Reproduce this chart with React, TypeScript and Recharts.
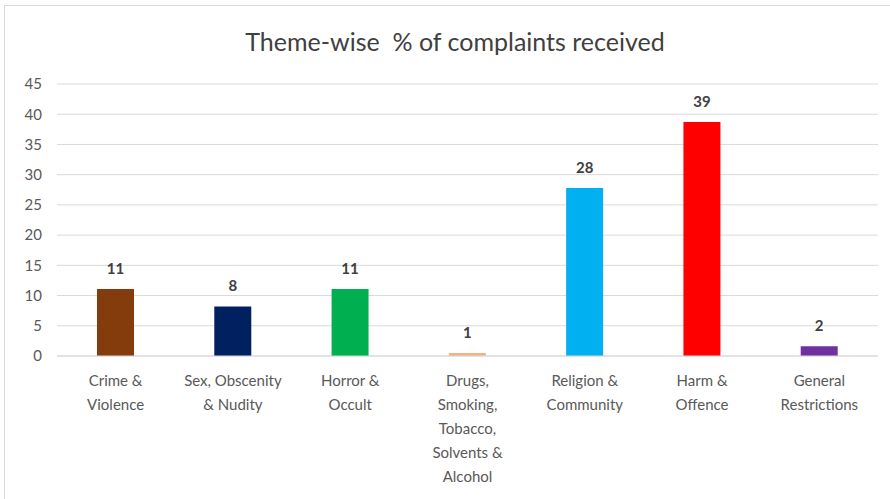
import { BarChart, Bar, XAxis, YAxis, CartesianGrid, Cell, LabelList } from 'recharts';

// Category names, with line breaks as they wrap under each bar
const categories = [
  'Crime &\nViolence',
  'Sex, Obscenity\n& Nudity',
  'Horror &\nOccult',
  'Drugs,\nSmoking,\nTobacco,\nSolvents &\nAlcohol',
  'Religion &\nCommunity',
  'Harm &\nOffence',
  'General\nRestrictions',
];

// % of complaints (bar heights)
const percentages = [11.1, 8.2, 11.1, 0.5, 27.8, 38.7, 1.6];

const barColors = ['#843C0C', '#002060', '#00B050', '#F4B183', '#00B0F0', '#FF0000', '#7030A0'];

const yTicks = [0, 5, 10, 15, 20, 25, 30, 35, 40, 45];

const chartData = categories.map((name, i) => ({ name, value: percentages[i] }));

const FONT = 'Lato, "Open Sans", sans-serif';

function CategoryTick(props: any) {
  const { x, y, payload } = props;
  const lines = String(payload.value).split('\n');
  return (
    <text x={x} y={y} textAnchor="middle" fill="#595959" fontSize={15} fontFamily={FONT}>
      {lines.map((line, i) => (
        <tspan key={i} x={x} dy={i === 0 ? 22 : 24}>
          {line}
        </tspan>
      ))}
    </text>
  );
}

export default function App() {
  return (
    <div style={{ position: 'absolute', left: 0, top: 0, width: 890, height: 499, background: '#fff', overflow: 'hidden' }}>
      <div
        style={{
          position: 'absolute',
          left: 4,
          top: 5,
          width: 1000,
          height: 1000,
          borderLeft: '1px solid #d9d9d9',
          borderTop: '1px solid #d9d9d9',
        }}
      />
      <div
        style={{
          position: 'absolute',
          left: 0,
          top: 26,
          width: 910,
          textAlign: 'center',
          fontFamily: FONT,
          fontSize: 25,
          color: '#404040',
        }}
      >
        Theme-wise&nbsp; % of complaints received
      </div>
      <div style={{ position: 'absolute', left: 0, top: 0 }}>
        <BarChart width={890} height={499} data={chartData} margin={{ top: 84, right: 12, bottom: 0, left: 0 }}>
          <CartesianGrid vertical={false} stroke="#d9d9d9" />
          <XAxis
            dataKey="name"
            interval={0}
            tickLine={false}
            axisLine={{ stroke: '#d9d9d9' }}
            height={143}
            tick={<CategoryTick />}
          />
          <YAxis
            width={57}
            domain={[0, 45]}
            ticks={yTicks}
            axisLine={false}
            tickLine={false}
            tickMargin={9}
            tick={{ fill: '#595959', fontSize: 15, fontFamily: FONT }}
          />
          <Bar dataKey="value" barSize={37} isAnimationActive={false}>
            {chartData.map((d, i) => (
              <Cell key={d.name} fill={barColors[i]} />
            ))}
            <LabelList
              dataKey="value"
              position="top"
              offset={15}
              formatter={(v: any) => Math.round(Number(v))}
              style={{ fill: '#404040', fontSize: 15, fontWeight: 700, fontFamily: FONT }}
            />
          </Bar>
        </BarChart>
      </div>
    </div>
  );
}
